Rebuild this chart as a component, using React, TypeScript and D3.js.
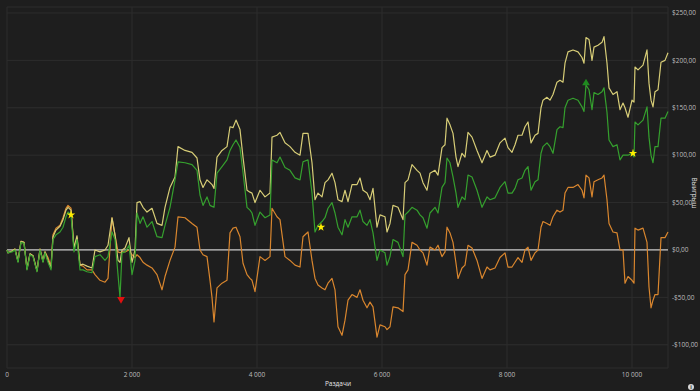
import React from "react";
import * as d3 from "d3";

const hands = [0,16,80,128,176,224,272,320,368,416,480,528,576,608,656,704,736,784,848,896,944,976,1024,1072,1120,1168,1216,1280,1360,1408,1488,1568,1616,1680,1728,1776,1808,1840,1888,1952,2000,2048,2080,2128,2176,2240,2320,2400,2480,2528,2608,2688,2736,2848,2960,3040,3088,3136,3200,3248,3280,3312,3360,3440,3520,3568,3616,3664,3728,3776,3840,3888,3920,3968,4048,4128,4208,4240,4320,4368,4448,4528,4608,4688,4736,4816,4880,4928,4976,5040,5088,5136,5200,5248,5296,5360,5408,5456,5520,5600,5648,5696,5760,5808,5856,5920,5968,6048,6080,6128,6176,6256,6336,6368,6416,6480,6560,6608,6656,6720,6768,6848,6896,6960,7008,7040,7088,7136,7184,7216,7280,7328,7376,7440,7520,7600,7680,7728,7808,7888,7968,8016,8080,8128,8176,8240,8288,8336,8384,8448,8496,8544,8576,8640,8688,8736,8800,8848,8896,8928,8976,9056,9136,9200,9232,9264,9312,9360,9392,9456,9520,9552,9600,9632,9696,9760,9808,9856,9888,9936,10000,10032,10048,10096,10176,10240,10272,10304,10336,10368,10416,10464,10528,10576];

const evWinnings = [0,-3,-1,1,-12,9,8,-20,-4,-6,-22,1,-12,-2,-11,-19,14,21,25,32,42,45,42,2,15,-16,-15,-17,-19,0,-2,0,5,34,16,-11,-13,0,2,13,-13,0,50,51,45,40,44,28,26,45,66,77,109,105,103,97,74,66,74,71,69,65,98,105,109,130,129,137,127,98,63,61,60,50,63,56,60,119,121,124,113,109,103,100,123,123,92,53,60,56,71,74,81,71,53,51,63,51,69,69,76,63,60,53,65,24,37,35,19,28,47,45,32,71,74,90,84,81,71,63,81,84,79,108,111,139,132,123,98,88,102,98,124,119,105,92,105,98,100,113,118,108,103,111,121,121,130,135,113,121,123,150,158,161,158,164,177,179,177,197,209,211,209,203,197,224,222,200,214,216,219,225,197,171,164,167,148,155,150,140,158,156,193,190,195,211,176,158,151,167,169,198,200,208];

const netWinnings = [0,-3,-2,0,-13,8,7,-21,-5,-7,-23,0,-13,-3,-13,-21,11,16,19,24,35,40,37,-2,11,-21,-21,-23,-24,-7,-5,-11,-7,19,11,-26,-50,-3,-2,5,-26,-11,39,28,35,24,30,14,13,26,45,74,93,92,90,84,58,47,56,47,46,45,81,88,95,105,111,116,108,82,45,42,39,26,40,34,37,95,92,98,87,84,76,74,93,95,60,19,26,30,34,44,50,39,24,16,32,24,35,35,42,30,26,32,18,-11,0,-3,-16,-7,11,8,-7,37,40,45,42,37,34,23,39,45,39,66,71,97,92,77,60,45,56,53,79,77,63,45,56,53,55,66,72,60,60,65,74,76,84,88,63,72,74,102,109,113,109,102,127,130,129,150,158,160,158,151,146,174,169,148,166,164,167,171,145,116,109,111,95,100,100,100,102,98,135,132,137,151,119,100,92,109,109,139,139,146];

const nonShowdown = [0,-3,-1,1,-12,9,8,-20,-4,-6,-22,1,-12,-2,-8,-17,16,23,26,34,44,47,44,2,13,-16,-17,-21,-21,-26,-32,-34,-30,34,16,-2,-3,-2,-2,0,-5,-8,-5,-8,-13,-16,-19,-26,-42,-28,-11,3,35,34,28,24,0,-5,-7,-32,-50,-76,-40,-35,-32,18,23,24,14,-14,-26,-30,-32,-44,-7,-11,-7,44,35,32,-7,-11,-16,-18,14,19,-11,-30,-37,-40,-42,-35,-30,-42,-81,-90,-74,-53,-47,-50,-42,-53,-61,-55,-60,-92,-79,-81,-84,-81,-60,-61,-65,-26,-21,8,5,0,-3,-16,3,0,5,-7,-2,24,18,8,-14,-30,-19,-16,5,2,-11,-30,-18,-21,-19,-8,-3,-18,-18,-13,-8,-13,0,3,-11,-3,0,24,30,28,26,35,42,40,42,60,66,66,69,63,55,79,76,56,72,74,76,79,53,28,19,18,0,0,-35,-28,-32,-35,23,21,23,8,-39,-61,-53,-47,-47,13,13,19];

const xTicks = [0, 2000, 4000, 6000, 8000, 10000];
const yTicks = [-100, -50, 0, 50, 100, 150, 200, 250];

const starHands = [1024, 5024, 10016];
const starValues = [37, 24, 102];
const maxHand = [9264];
const maxValue = [176];
const minHand = [1824];
const minValue = [-52];

const W = 700;
const H = 391;

export default function App() {
  const x = d3.scaleLinear().domain([0, 10576]).range([7, 668]);
  const y = d3.scaleLinear().domain([-124.5, 256.3]).range([368, 7]);

  const mk = (vals: number[]) =>
    d3
      .line<number>()
      .x((_, i) => x(hands[i]))
      .y((d) => y(d))
      .curve(d3.curveLinear)(vals) || "";

  const fmtX = (v: number) => (v >= 1000 ? d3.format(",")(v).replace(",", " ") : String(v));
  const fmtY = (v: number) =>
    (v < 0 ? "-$" : "$") + Math.abs(v).toFixed(2).replace(".", ",");

  const star = d3.symbol().type(d3.symbolStar).size(22)() || "";
  const triUp = d3.symbol().type(d3.symbolTriangle).size(26)() || "";

  const font = "'Open Sans', 'Noto Sans', sans-serif";

  return (
    <svg
      width={W}
      height={H}
      style={{ position: "absolute", left: 0, top: 0, background: "#1e1e1e" }}
    >
      <rect x={0} y={0} width={W} height={H} fill="#1e1e1e" />
      {/* grid */}
      {yTicks.map((t) => (
        <line key={"gy" + t} x1={7} x2={668} y1={y(t)} y2={y(t)} stroke="#2d2d2d" strokeWidth={1} />
      ))}
      {xTicks.map((t) => (
        <line key={"gx" + t} x1={x(t)} x2={x(t)} y1={7} y2={368} stroke="#2d2d2d" strokeWidth={1} />
      ))}
      <line x1={7} x2={668} y1={7} y2={7} stroke="#2d2d2d" />
      <line x1={7} x2={668} y1={368} y2={368} stroke="#2d2d2d" />
      <line x1={668} x2={668} y1={7} y2={368} stroke="#2d2d2d" />

      {/* zero line */}
      <line x1={7} x2={668} y1={y(0)} y2={y(0)} stroke="#c8c8c8" strokeWidth={1.3} />

      {/* series */}
      <path d={mk(nonShowdown)} fill="none" stroke="#d9862e" strokeWidth={1.2} strokeLinejoin="round" />
      <path d={mk(evWinnings)} fill="none" stroke="#d7cd77" strokeWidth={1.2} strokeLinejoin="round" />
      <path d={mk(netWinnings)} fill="none" stroke="#35a02e" strokeWidth={1.2} strokeLinejoin="round" />

      {/* markers */}
      {starHands.map((h, i) => (
        <path key={"s" + i} d={star} transform={`translate(${x(h)},${y(starValues[i])})`} fill="#ffee00" />
      ))}
      {maxHand.map((h, i) => (
        <path key={"mx" + i} d={triUp} transform={`translate(${x(h)},${y(maxValue[i])})`} fill="#1f8a1f" />
      ))}
      {minHand.map((h, i) => (
        <path key={"mn" + i} d={triUp} transform={`translate(${x(h)},${y(minValue[i])}) rotate(180)`} fill="#e01010" />
      ))}

      {/* axis labels */}
      {xTicks.map((t) => (
        <text key={"tx" + t} x={x(t)} y={377} fill="#bdbdbd" fontSize={6.5} fontFamily={font} textAnchor="middle">
          {fmtX(t)}
        </text>
      ))}
      {yTicks.map((t) => (
        <text key={"ty" + t} x={672} y={y(t) + 2.2} fill="#bdbdbd" fontSize={6.5} fontFamily={font} textAnchor="start">
          {fmtY(t)}
        </text>
      ))}
      <text x={338} y={386} fill="#e6e6e6" fontSize={6.5} fontFamily={font} textAnchor="middle">
        Раздачи
      </text>
      <text
        transform={`translate(692,193) rotate(90)`}
        fill="#e6e6e6"
        fontSize={6.5}
        fontFamily={font}
        textAnchor="middle"
      >
        Выигрыш
      </text>
      <circle cx={691} cy={387} r={3} fill="#d8d8d8" />
      <text x={691} y={389} fill="#1e1e1e" fontSize={5} fontFamily={font} textAnchor="middle" fontWeight="bold">
        i
      </text>
    </svg>
  );
}
